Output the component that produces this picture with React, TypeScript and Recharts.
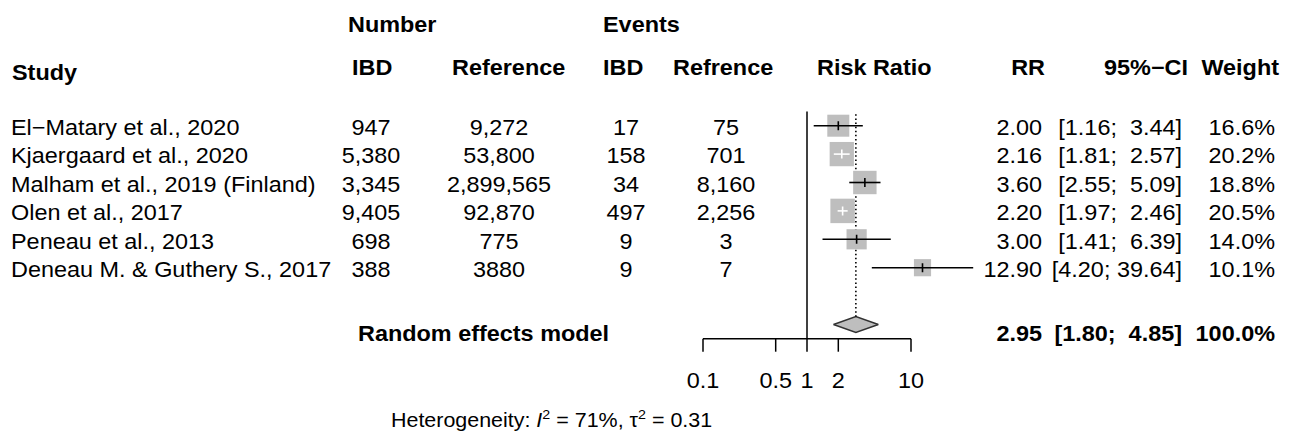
import React from "react";
import {
  ComposedChart,
  Scatter,
  Area,
  XAxis,
  YAxis,
  ReferenceLine,
  ErrorBar,
  Customized,
} from "recharts";

// study rows
const studies = [
  "El\u2212Matary et al., 2020",
  "Kjaergaard et al., 2020",
  "Malham et al., 2019 (Finland)",
  "Olen et al., 2017",
  "Peneau et al., 2013",
  "Deneau M. & Guthery S., 2017",
];
const numberIBD = ["947", "5,380", "3,345", "9,405", "698", "388"];
const numberRef = ["9,272", "53,800", "2,899,565", "92,870", "775", "3880"];
const eventsIBD = ["17", "158", "34", "497", "9", "9"];
const eventsRef = ["75", "701", "8,160", "2,256", "3", "7"];
const riskRatio = [2.0, 2.16, 3.6, 2.2, 3.0, 12.9];
const ciLower = [1.16, 1.81, 2.55, 1.97, 1.41, 4.2];
const ciUpper = [3.44, 2.57, 5.09, 2.46, 6.39, 39.64];
const weights = [16.6, 20.2, 18.8, 20.5, 14.0, 10.1];

// random effects model
const pooledRR = 2.95;
const pooledLower = 1.8;
const pooledUpper = 4.85;
const pooledWeight = 100.0;
const hetI2 = "71%";
const hetTau2 = "0.31";

const xTicks = [0.1, 0.5, 1, 2, 10];

// layout
const W = 1292;
const H = 439;
const X_MIN = 0.1;
const X_MAX = Math.pow(10, 1.6);
const PX_PER_DECADE = 104;
const PLOT_LEFT = 703;
const PLOT_RIGHT = PLOT_LEFT + PX_PER_DECADE * Math.log10(X_MAX / X_MIN);
const PLOT_TOP = 111.5;
const PLOT_BOTTOM = 338.7;
const X_AXIS_H = 60;
const SUMMARY_ROW = 7;
const DIAMOND_HALF = 0.28;
const FONT = "'Liberation Sans', Arial, Helvetica, sans-serif";
const GREY = "#bebebe";

// column anchors
const COL = {
  study: 11,
  nIBD: 371,
  nRef: 499,
  eIBD: 626,
  eRef: 726,
  rr: 1042,
  ci: 1182,
  weight: 1275,
};

const pad = (s: string, n: number) => s.padStart(n, " ");
const ciText = (lo: number, hi: number) =>
  `[${lo.toFixed(2)}; ${pad(hi.toFixed(2), 5)}]`;

type TxtProps = {
  x: number;
  y: number;
  anchor?: "start" | "middle" | "end";
  bold?: boolean;
  size?: number;
  children: React.ReactNode;
};

const Txt = ({ x, y, anchor = "start", bold = false, size = 21.3, children }: TxtProps) => (
  <text
    transform={`translate(${x},${y}) scale(1.1,1)`}
    textAnchor={anchor}
    fontFamily={FONT}
    fontSize={size}
    fontWeight={bold ? "bold" : "normal"}
    fill="#000"
    style={{ whiteSpace: "pre" }}
  >
    {children}
  </text>
);

const squareData = studies.map((s, i) => ({ x: riskRatio[i], y: i, w: weights[i] }));

const ciInside = (i: number) =>
  PX_PER_DECADE * Math.log10(ciUpper[i] / ciLower[i]) < 5.4 * Math.sqrt(weights[i]);

const ciData = studies.map((s, i) => ({
  x: riskRatio[i],
  y: i,
  err: [riskRatio[i] - ciLower[i], ciUpper[i] - riskRatio[i]],
  inside: ciInside(i),
}));
const ciBlack = ciData.filter((d) => !d.inside);
const ciWhite = ciData.filter((d) => d.inside);

const diamondData = [
  { x: pooledLower, band: [SUMMARY_ROW, SUMMARY_ROW] },
  { x: pooledRR, band: [SUMMARY_ROW - DIAMOND_HALF, SUMMARY_ROW + DIAMOND_HALF] },
  { x: pooledUpper, band: [SUMMARY_ROW, SUMMARY_ROW] },
];

// eslint-disable-next-line @typescript-eslint/no-explicit-any
const SquareShape = (props: any) => {
  const { cx, cy, payload } = props;
  const s = 5.4 * Math.sqrt(payload.w);
  return <rect x={cx - s / 2} y={cy - s / 2} width={s} height={s} fill={GREY} />;
};

const makeTick = (color: string) =>
  // eslint-disable-next-line @typescript-eslint/no-explicit-any
  (props: any) => (
    <line
      x1={props.cx}
      x2={props.cx}
      y1={props.cy - 4.5}
      y2={props.cy + 4.5}
      stroke={color}
      strokeWidth={1.6}
    />
  );

// eslint-disable-next-line @typescript-eslint/no-explicit-any
const RowTick = (props: any) => {
  const { y, payload } = props;
  const row = payload.value;
  if (row === SUMMARY_ROW) {
    const by = y + 16.5;
    return (
      <g>
        <Txt x={358} y={by} bold>
          Random effects model
        </Txt>
        <Txt x={COL.rr} y={by} anchor="end" bold>
          {pooledRR.toFixed(2)}
        </Txt>
        <Txt x={COL.ci} y={by} anchor="end" bold>
          {ciText(pooledLower, pooledUpper)}
        </Txt>
        <Txt x={COL.weight} y={by} anchor="end" bold>
          {pooledWeight.toFixed(1) + "%"}
        </Txt>
      </g>
    );
  }
  const by = y + 9.3;
  return (
    <g>
      <Txt x={COL.study} y={by}>{studies[row]}</Txt>
      <Txt x={COL.nIBD} y={by} anchor="middle">{numberIBD[row]}</Txt>
      <Txt x={COL.nRef} y={by} anchor="middle">{numberRef[row]}</Txt>
      <Txt x={COL.eIBD} y={by} anchor="middle">{eventsIBD[row]}</Txt>
      <Txt x={COL.eRef} y={by} anchor="middle">{eventsRef[row]}</Txt>
      <Txt x={COL.rr} y={by} anchor="end">{riskRatio[row].toFixed(2)}</Txt>
      <Txt x={COL.ci} y={by} anchor="end">{ciText(ciLower[row], ciUpper[row])}</Txt>
      <Txt x={COL.weight} y={by} anchor="end">{weights[row].toFixed(1) + "%"}</Txt>
    </g>
  );
};

// eslint-disable-next-line @typescript-eslint/no-explicit-any
const XTick = (props: any) => (
  <Txt x={props.x} y={props.y + 36} anchor="middle">
    {String(props.payload.value)}
  </Txt>
);

const Headers = () => (
  <g>
    <Txt x={348} y={32} bold>Number</Txt>
    <Txt x={603} y={32} bold>Events</Txt>
    <Txt x={12} y={80} bold>Study</Txt>
    <Txt x={352} y={75} bold>IBD</Txt>
    <Txt x={452} y={75} bold>Reference</Txt>
    <Txt x={603} y={75} bold>IBD</Txt>
    <Txt x={673} y={75} bold>Refrence</Txt>
    <Txt x={817} y={75} bold>Risk Ratio</Txt>
    <Txt x={1045} y={75} anchor="end" bold>RR</Txt>
    <Txt x={1188} y={75} anchor="end" bold>95%−CI</Txt>
    <Txt x={1279} y={75} anchor="end" bold>Weight</Txt>
    <Txt x={391} y={427} size={19.5}>
      {"Heterogeneity: "}
      <tspan fontStyle="italic">I</tspan>
      <tspan dy={-8} fontSize={13}>2</tspan>
      <tspan dy={8}>{` = ${hetI2}, \u03c4`}</tspan>
      <tspan dy={-8} fontSize={13}>2</tspan>
      <tspan dy={8}>{` = ${hetTau2}`}</tspan>
    </Txt>
  </g>
);

export default function App() {
  return (
    <div style={{ position: "absolute", left: 0, top: 0, width: W, height: H, background: "#fff" }}>
      <ComposedChart
        width={W}
        height={H}
        margin={{
          top: PLOT_TOP,
          bottom: H - PLOT_BOTTOM - X_AXIS_H,
          left: PLOT_LEFT,
          right: W - PLOT_RIGHT,
        }}
      >
        <XAxis
          type="number"
          dataKey="x"
          scale="log"
          domain={[X_MIN, X_MAX]}
          allowDataOverflow
          ticks={xTicks}
          interval={0}
          height={X_AXIS_H}
          axisLine={false}
          tickSize={13}
          tickMargin={0}
          tickLine={{ stroke: "#000", strokeWidth: 1.5 }}
          tick={XTick}
        />
        <YAxis
          type="number"
          dataKey="y"
          domain={[-0.5, 7.5]}
          reversed
          mirror
          ticks={[0, 1, 2, 3, 4, 5, SUMMARY_ROW]}
          interval={0}
          axisLine={false}
          tickLine={false}
          tick={RowTick}
        />
        <ReferenceLine x={1} stroke="#000" strokeWidth={1.5} />
        <ReferenceLine
          segment={[
            { x: X_MIN, y: 7.5 },
            { x: 10, y: 7.5 },
          ]}
          stroke="#000"
          strokeWidth={1.5}
        />
        <ReferenceLine
          segment={[
            { x: pooledRR, y: -0.4 },
            { x: pooledRR, y: SUMMARY_ROW - DIAMOND_HALF },
          ]}
          stroke="#000"
          strokeWidth={1.6}
          strokeDasharray="1.5 2.6"
        />
        <Scatter data={squareData} shape={SquareShape} isAnimationActive={false} zIndex={550} />
        <Scatter data={ciBlack} shape={makeTick("#000")} isAnimationActive={false} zIndex={700}>
          <ErrorBar dataKey="err" direction="x" width={0} stroke="#000" strokeWidth={1.6} zIndex={700} />
        </Scatter>
        <Scatter data={ciWhite} shape={makeTick("#fff")} isAnimationActive={false} zIndex={710}>
          <ErrorBar dataKey="err" direction="x" width={0} stroke="#fff" strokeWidth={1.6} zIndex={710} />
        </Scatter>
        <Area
          data={diamondData}
          dataKey="band"
          type="linear"
          fill={GREY}
          fillOpacity={1}
          stroke="#333"
          strokeWidth={1.5}
          dot={false}
          activeDot={false}
          isAnimationActive={false}
        />
        <Customized component={<Headers />} />
      </ComposedChart>
    </div>
  );
}
